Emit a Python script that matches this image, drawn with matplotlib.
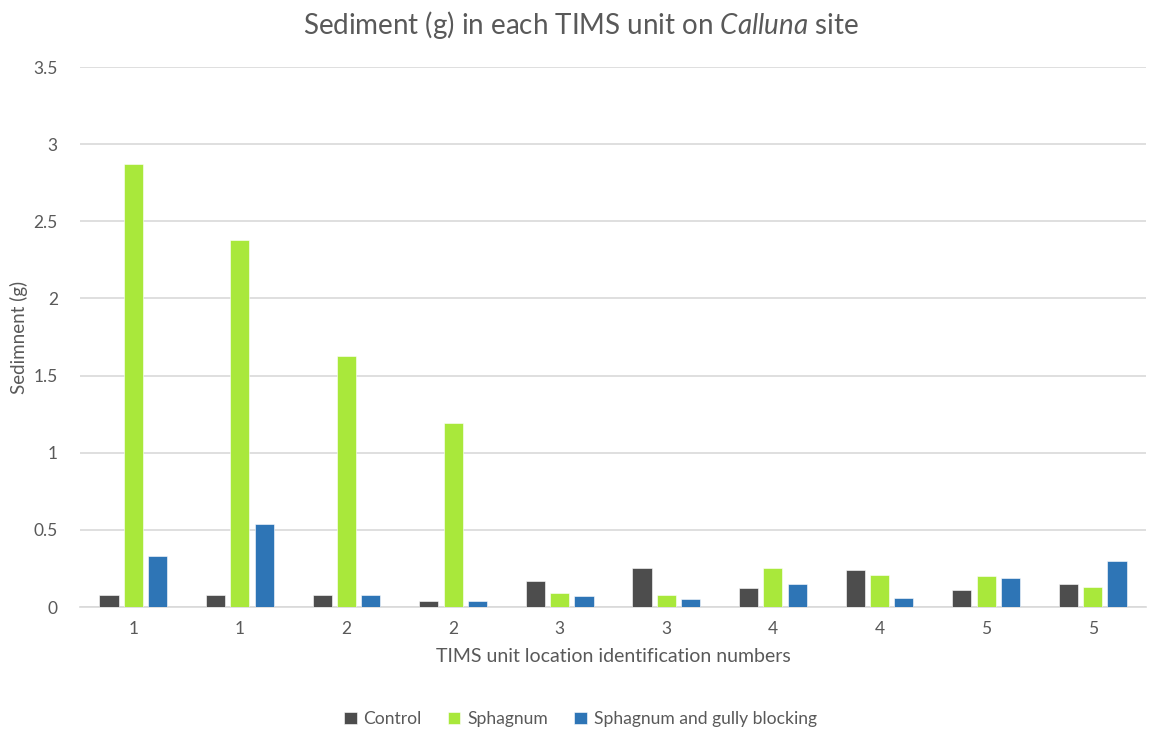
import matplotlib.pyplot as plt
import numpy as np

plt.rcParams['font.family'] = ['Lato', 'DejaVu Sans']
plt.rcParams['mathtext.fontset'] = 'custom'
plt.rcParams['mathtext.rm'] = 'Lato'
plt.rcParams['mathtext.it'] = 'Lato:italic'

# data
unit_labels = ['1', '1', '2', '2', '3', '3', '4', '4', '5', '5']
control = [0.08, 0.08, 0.08, 0.04, 0.17, 0.25, 0.12, 0.24, 0.11, 0.15]
sphagnum = [2.87, 2.38, 1.63, 1.19, 0.09, 0.08, 0.25, 0.21, 0.20, 0.13]
gully = [0.33, 0.54, 0.08, 0.04, 0.07, 0.05, 0.15, 0.06, 0.19, 0.30]
series_names = ['Control', 'Sphagnum', 'Sphagnum and gully blocking']
colors = ['#4D4D4D', '#A9E83B', '#2E75B6']

txt = '#595959'
grid = '#D9D9D9'

fig = plt.figure(figsize=(11.61, 7.30), dpi=100)
ax = fig.add_axes([80 / 1161, 1 - 607 / 730, 1066 / 1161, 540 / 730])

x = np.arange(len(unit_labels))
w = 0.18
step = 0.228
for i, (vals, name, c) in enumerate(zip([control, sphagnum, gully], series_names, colors)):
    ax.bar(x + (i - 1) * step, vals, width=w, color=c, label=name, zorder=3,
           edgecolor='white', linewidth=0.4)

ax.set_xlim(-0.5, len(unit_labels) - 0.5)
ax.set_ylim(0, 3.5)
ax.set_yticks(np.arange(0, 3.51, 0.5))
ax.set_yticklabels(['0', '0.5', '1', '1.5', '2', '2.5', '3', '3.5'])
ax.set_xticks(x)
ax.set_xticklabels(unit_labels)
ax.yaxis.grid(True, color=grid, linewidth=1.2, zorder=0)
ax.tick_params(axis='both', length=0, labelsize=12.5, colors=txt)
ax.tick_params(axis='x', pad=10)
ax.tick_params(axis='y', pad=16)
for s in ['top', 'right', 'left']:
    ax.spines[s].set_visible(False)
ax.spines['bottom'].set_color(grid)
ax.spines['bottom'].set_linewidth(1.2)

ax.set_xlabel('TIMS unit location identification numbers', fontsize=14, color=txt, labelpad=8)
ax.set_ylabel('Sedimnent (g)', fontsize=13.5, color=txt, labelpad=4)

fig.text(0.5, 0.966, r'Sediment (g) in each TIMS unit on $\mathit{Calluna}$ site',
         ha='center', va='center', fontsize=20, color=txt)

fig.legend(loc='center', bbox_to_anchor=(0.5, 1 - 719 / 730), ncol=3, frameon=False,
           fontsize=12.6, labelcolor=txt, handlelength=0.7, handleheight=0.7,
           handletextpad=0.4, columnspacing=1.5)

fig.savefig('out.png', dpi=100)
